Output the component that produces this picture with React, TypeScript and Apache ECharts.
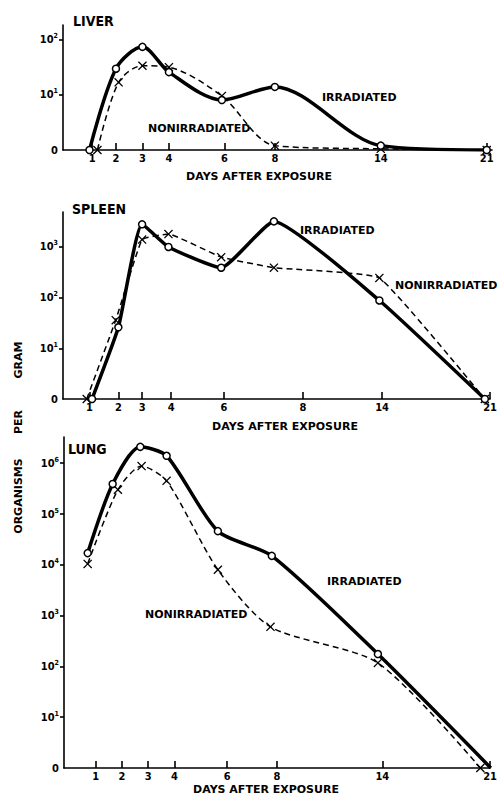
import React, { useEffect, useRef } from 'react';
import * as echarts from 'echarts';

// ---- axis ticks (days after exposure) ----
const TICK_LABELS = ['1', '2', '3', '4', '6', '8', '14', '21'];
// piecewise mapping of day -> axis position unit (the drawing's uneven day scale)
const DAY_KNOTS = [0, 1, 2, 3, 4, 6, 8, 14, 21, 24];
const POS_KNOTS = [0, 1, 2, 3, 4, 6, 8, 12, 16, 17.7];
// where each panel's tick marks were drawn (axis position units)
const LIVER_TICK_POS = [1.1, 2.0, 3.0, 4.0, 6.1, 8.0, 12.0, 16.0];
const SPLEEN_TICK_POS = [1.0, 2.1, 3.0, 4.1, 6.1, 9.1, 12.1, 16.2];
const LUNG_TICK_POS = [1.2, 2.2, 3.2, 4.2, 6.2, 8.1, 12.1, 16.2];

// ---- y tick values (0 drawn at 10^0) ----
const LIVER_Y_TICKS = [1, 10, 100];
const SPLEEN_Y_TICKS = [1, 10, 100, 1000];
const LUNG_Y_TICKS = [1, 10, 100, 1000, 10000, 100000, 1000000];

// ---- LIVER ----
const LIVER_IRR_DAYS = [1, 2, 3, 4, 6, 8, 14, 21];
const LIVER_IRR = [1, 30, 75, 26, 8.1, 14, 1.2, 1];
const LIVER_NON_DAYS = [1.3, 2.1, 3, 4, 6, 8, 14, 21];
const LIVER_NON = [1, 17, 34, 32, 9.6, 1.2, 1.05, 1];

// ---- SPLEEN ----
const SPLEEN_IRR_DAYS = [1.1, 2.1, 3, 4, 6, 8, 14, 21];
const SPLEEN_IRR = [1, 26, 2800, 1000, 390, 3200, 88, 1];
const SPLEEN_NON_DAYS = [0.9, 2, 3, 4, 6, 8, 14, 21];
const SPLEEN_NON = [1, 36, 1400, 1800, 630, 390, 245, 1];

// ---- LUNG ----
const LUNG_IRR_DAYS = [0.9, 1.85, 2.9, 3.9, 5.85, 7.9, 13.9, 21.4];
const LUNG_IRR = [17000, 390000, 2100000, 1400000, 46000, 15000, 175, 1];
const LUNG_NON_DAYS = [0.9, 2.05, 2.95, 3.9, 5.85, 7.85, 13.9, 20.7];
const LUNG_NON = [10400, 300000, 880000, 450000, 8000, 600, 117, 1];

const FONT = '"DejaVu Sans", sans-serif';
const COND = '"DejaVu Sans Condensed", "DejaVu Sans", sans-serif';
const X_PATH = 'path://M1,0L5,4L9,0L10,1L6,5L10,9L9,10L5,6L1,10L0,9L4,5L0,1Z';

function dayToPos(d: number): number {
  for (let i = 0; i < DAY_KNOTS.length - 1; i++) {
    if (d <= DAY_KNOTS[i + 1]) {
      const t = (d - DAY_KNOTS[i]) / (DAY_KNOTS[i + 1] - DAY_KNOTS[i]);
      return POS_KNOTS[i] + t * (POS_KNOTS[i + 1] - POS_KNOTS[i]);
    }
  }
  return POS_KNOTS[POS_KNOTS.length - 1];
}

const AXIS_LINE = { color: '#000', width: 1.6 };

function xAxisFor(gridIndex: number, tickPos: number[]) {
  return {
    type: 'value',
    gridIndex,
    min: 0,
    max: 16.2,
    axisLine: { show: true, onZero: false, lineStyle: AXIS_LINE },
    axisTick: { show: true, customValues: tickPos, inside: true, length: 7, lineStyle: AXIS_LINE },
    axisLabel: {
      customValues: tickPos,
      margin: 3,
      color: '#000',
      fontSize: 11,
      fontWeight: 'bold',
      fontFamily: COND,
      formatter: (v: number) => {
        const i = tickPos.findIndex((p) => Math.abs(p - v) < 1e-6);
        return i >= 0 ? TICK_LABELS[i] : '';
      },
    },
    splitLine: { show: false },
  };
}

function yAxisFor(gridIndex: number, max: number, ticks: number[]) {
  return {
    type: 'log',
    logBase: 10,
    gridIndex,
    min: 1,
    max,
    axisLine: { show: true, onZero: false, lineStyle: AXIS_LINE },
    axisTick: { show: true, customValues: ticks.filter((t) => t > 1), length: 4, lineStyle: AXIS_LINE },
    axisLabel: {
      customValues: ticks,
      margin: 5,
      formatter: (v: number) => {
        const e = Math.round(Math.log10(v));
        return e === 0 ? '{b|0}' : '{b|10}{s|' + e + '}';
      },
      rich: {
        b: { fontSize: 11, fontWeight: 'bold', fontFamily: COND, color: '#000', lineHeight: 14 },
        s: { fontSize: 7, fontWeight: 'bold', fontFamily: COND, color: '#000', lineHeight: 7, verticalAlign: 'top' },
      },
    },
    splitLine: { show: false },
  };
}

function irrSeries(idx: number, days: number[], vals: number[], smooth: number) {
  return {
    type: 'line',
    xAxisIndex: idx,
    yAxisIndex: idx,
    data: days.map((d, k) => [dayToPos(d), vals[k]]),
    smooth,
    symbol: 'circle',
    symbolSize: 7,
    showAllSymbol: true,
    lineStyle: { color: '#000', width: 3.5 },
    itemStyle: { color: '#fff', borderColor: '#000', borderWidth: 1.5 },
    z: 4,
  };
}

function nonSeries(idx: number, days: number[], vals: number[], smooth: number) {
  return {
    type: 'line',
    xAxisIndex: idx,
    yAxisIndex: idx,
    data: days.map((d, k) => [dayToPos(d), vals[k]]),
    smooth,
    symbol: X_PATH,
    symbolSize: 9,
    showAllSymbol: true,
    lineStyle: { color: '#000', width: 1.5, type: [6, 4] },
    itemStyle: { color: '#000' },
    z: 3,
  };
}

function txt(text: string, x: number, y: number, size: number, align: string, family = FONT, rotation = 0) {
  return {
    type: 'text',
    x,
    y,
    rotation,
    style: {
      text,
      fill: '#000',
      fontSize: size,
      fontWeight: 'bold',
      fontFamily: family,
      align,
      verticalAlign: 'middle',
      textAlign: align,
      textVerticalAlign: 'middle',
    },
  };
}

export default function App() {
  const ref = useRef<HTMLDivElement>(null);
  useEffect(() => {
    if (!ref.current) return;
    const chart = echarts.init(ref.current, undefined, { renderer: 'svg' });
    chart.setOption({
      animation: false,
      backgroundColor: '#fff',
      grid: [
        { left: 63, top: 25, width: 429, height: 125 },
        { left: 63, top: 212, width: 429, height: 187 },
        { left: 64, top: 437, width: 429, height: 331 },
      ],
      xAxis: [xAxisFor(0, LIVER_TICK_POS), xAxisFor(1, SPLEEN_TICK_POS), xAxisFor(2, LUNG_TICK_POS)],
      yAxis: [
        yAxisFor(0, 187, LIVER_Y_TICKS),
        yAxisFor(1, 4900, SPLEEN_Y_TICKS),
        yAxisFor(2, 3280000, LUNG_Y_TICKS),
      ],
      series: [
        irrSeries(0, LIVER_IRR_DAYS, LIVER_IRR, 0.3),
        nonSeries(0, LIVER_NON_DAYS, LIVER_NON, 0.3),
        irrSeries(1, SPLEEN_IRR_DAYS, SPLEEN_IRR, 0.15),
        nonSeries(1, SPLEEN_NON_DAYS, SPLEEN_NON, 0.1),
        irrSeries(2, LUNG_IRR_DAYS, LUNG_IRR, 0.25),
        nonSeries(2, LUNG_NON_DAYS, LUNG_NON, 0.25),
      ],
      graphic: [
        txt('LIVER', 73, 21, 14, 'left', COND),
        txt('IRRADIATED', 322, 97, 11, 'left'),
        txt('NONIRRADIATED', 148, 128, 11, 'left'),
        txt('DAYS AFTER EXPOSURE', 259, 176, 11, 'center'),
        txt('SPLEEN', 72, 209, 14, 'left', COND),
        txt('IRRADIATED', 300, 230, 11, 'left'),
        txt('NONIRRADIATED', 395, 285, 11, 'left'),
        txt('DAYS AFTER EXPOSURE', 285, 426, 11, 'center'),
        txt('LUNG', 68, 449, 14, 'left', COND),
        txt('IRRADIATED', 327, 581, 11, 'left'),
        txt('NONIRRADIATED', 145, 614, 11, 'left'),
        txt('DAYS AFTER EXPOSURE', 266, 789, 11, 'center'),
        txt('GRAM', 18, 360, 11, 'center', FONT, Math.PI / 2),
        txt('PER', 18, 422, 11, 'center', FONT, Math.PI / 2),
        txt('ORGANISMS', 18, 496, 11, 'center', FONT, Math.PI / 2),
      ],
    });
    return () => chart.dispose();
  }, []);
  return (
    <div
      ref={ref}
      style={{ position: 'fixed', left: 0, top: 0, width: 500, height: 795, background: '#fff' }}
    />
  );
}
